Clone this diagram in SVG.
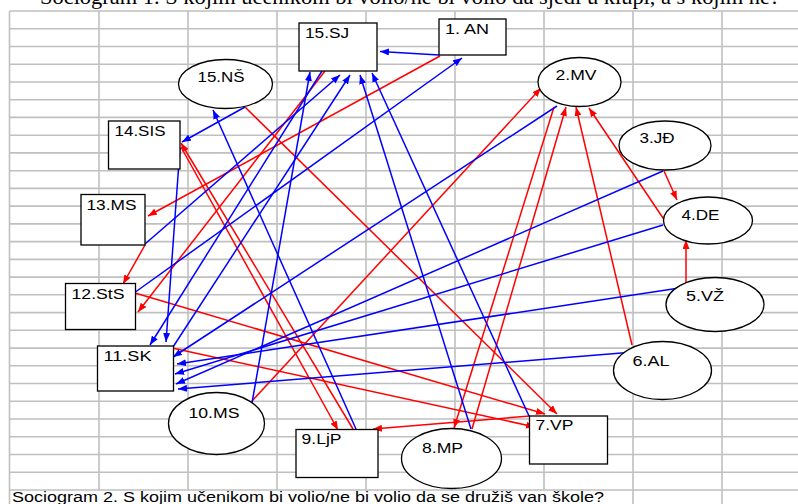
<svg xmlns="http://www.w3.org/2000/svg" width="798" height="504" viewBox="0 0 798 504">
<style>
.g{stroke:#c0c0c0;stroke-width:1.6;fill:none}
.n{fill:#fff;stroke:#000;stroke-width:1.3}
.t{font-family:"Liberation Sans",Arial,sans-serif;font-size:14px;fill:#000}
.r{stroke:#ff0000;stroke-width:1.5;fill:none;marker-end:url(#ar)}
.b{stroke:#0000ff;stroke-width:1.5;fill:none;marker-end:url(#ab)}
</style>
<defs>
<marker id="ar" markerUnits="userSpaceOnUse" markerWidth="9" markerHeight="7" refX="9" refY="3.5" orient="auto"><path d="M0,0 L9,3.5 L0,7 z" fill="#ff0000"/></marker>
<marker id="ab" markerUnits="userSpaceOnUse" markerWidth="9" markerHeight="7" refX="9" refY="3.5" orient="auto"><path d="M0,0 L9,3.5 L0,7 z" fill="#0000ff"/></marker>
</defs>
<rect x="0" y="0" width="798" height="504" fill="#fff"/>
<text x="40" y="4" font-family="'Liberation Serif','Times New Roman',serif" font-size="22" fill="#000" textLength="740" lengthAdjust="spacingAndGlyphs">Sociogram 1. S kojim učenikom bi volio/ne bi volio da sjedi u klupi, a s kojim ne?</text>
<g id="grid" class="g">
<path d="M9.5,11V504M99,11V490M188,11V490M277,11V490M366,11V490M455,11V490M544,11V490M633,11V504M722,11V504"/>
<path d="M9.5,11H798M9.5,28.7H798M9.5,46.5H798M9.5,64.2H798M9.5,82H798M9.5,99.7H798M9.5,117.4H798M9.5,135.2H798M9.5,152.9H798M9.5,170.7H798M9.5,188.4H798M9.5,206.1H798M9.5,223.9H798M9.5,241.6H798M9.5,259.4H798M9.5,277.1H798M9.5,294.8H798M9.5,312.6H798M9.5,330.3H798M9.5,348.1H798M9.5,365.8H798M9.5,383.5H798M9.5,401.3H798M9.5,419H798M9.5,436.8H798M9.5,454.5H798M9.5,472.2H798M9.5,490H798"/>
</g>
<text class="t" x="12" y="502" font-size="15" textLength="592" lengthAdjust="spacingAndGlyphs">Sociogram 2. S kojim učenikom bi volio/ne bi volio da se družiš van škole?</text>
<g id="connectors">
<path class="r" d="M440,56L148,216"/>
<path class="r" d="M325,71L138,312"/>
<path class="r" d="M145,245L123,284"/>
<path class="r" d="M181,147L338,430"/>
<path class="r" d="M353,429L181,143"/>
<path class="r" d="M245,107L557,414"/>
<path class="r" d="M252,401L541,88"/>
<path class="r" d="M172,348L535,427"/>
<path class="r" d="M135,293L545,414"/>
<path class="r" d="M530,416L373,429"/>
<path class="r" d="M554,107L454,428"/>
<path class="r" d="M472,429L566,107"/>
<path class="r" d="M632,345L576,107"/>
<path class="r" d="M665,221L589,108"/>
<path class="r" d="M664,171L677,200"/>
<path class="r" d="M686,287L686,240"/>
<path class="b" d="M439,55L380,51.5"/>
<path class="b" d="M134,293L462,58"/>
<path class="b" d="M245,107L182,142"/>
<path class="b" d="M356,429L213,110"/>
<path class="b" d="M180,148L166,342"/>
<path class="b" d="M322,71L150,345"/>
<path class="b" d="M173,347L350,75"/>
<path class="b" d="M145,244L340,75"/>
<path class="b" d="M252,403L310,72"/>
<path class="b" d="M471,429L360,75"/>
<path class="b" d="M529,416L372,73"/>
<path class="b" d="M557,106L173,357"/>
<path class="b" d="M663,171L176,384"/>
<path class="b" d="M663,225L175,374"/>
<path class="b" d="M686,287L177,364"/>
<path class="b" d="M634,352L178,389"/>
</g>
<g id="n15SJ"><rect class="n" x="299" y="23" width="78" height="48"/><text class="t" x="305" y="38" textLength="44" lengthAdjust="spacingAndGlyphs">15.SJ</text></g>
<g id="n1AN"><rect class="n" x="439" y="19" width="67" height="36"/><text class="t" x="445" y="34" textLength="44" lengthAdjust="spacingAndGlyphs">1. AN</text></g>
<g id="n15NS"><ellipse class="n" cx="225.5" cy="84" rx="47" ry="24.5"/><text class="t" x="197.5" y="82" textLength="47" lengthAdjust="spacingAndGlyphs">15.NŠ</text></g>
<g id="n2MV"><ellipse class="n" cx="579.5" cy="82" rx="41.5" ry="24.5"/><text class="t" x="555.5" y="80" textLength="41" lengthAdjust="spacingAndGlyphs">2.MV</text></g>
<g id="n3JD"><ellipse class="n" cx="665" cy="145.5" rx="46" ry="24.5"/><text class="t" x="639.5" y="143" textLength="35" lengthAdjust="spacingAndGlyphs">3.JĐ</text></g>
<g id="n4DE"><ellipse class="n" cx="708" cy="220.5" rx="44.5" ry="23.5"/><text class="t" x="681.5" y="220" textLength="38" lengthAdjust="spacingAndGlyphs">4.DE</text></g>
<g id="n5VZ"><ellipse class="n" cx="715" cy="304.5" rx="49" ry="27"/><text class="t" x="686" y="301" textLength="38" lengthAdjust="spacingAndGlyphs">5.VŽ</text></g>
<g id="n6AL"><ellipse class="n" cx="662.5" cy="370.5" rx="49" ry="29"/><text class="t" x="632.5" y="366" textLength="37" lengthAdjust="spacingAndGlyphs">6.AL</text></g>
<g id="n7VP"><rect class="n" x="529.5" y="416" width="78" height="48"/><text class="t" x="535.5" y="430" textLength="38" lengthAdjust="spacingAndGlyphs">7.VP</text></g>
<g id="n8MP"><ellipse class="n" cx="451.5" cy="458.5" rx="50" ry="30"/><text class="t" x="422" y="453" textLength="41" lengthAdjust="spacingAndGlyphs">8.MP</text></g>
<g id="n9LjP"><rect class="n" x="296" y="429.5" width="82" height="48"/><text class="t" x="301.5" y="444" textLength="40" lengthAdjust="spacingAndGlyphs">9.LjP</text></g>
<g id="n10MS"><ellipse class="n" cx="216.5" cy="423.5" rx="48" ry="31"/><text class="t" x="188.5" y="417.5" textLength="51" lengthAdjust="spacingAndGlyphs">10.MS</text></g>
<g id="n11SK"><rect class="n" x="97.5" y="346" width="76" height="45"/><text class="t" x="103.5" y="360.5" textLength="48" lengthAdjust="spacingAndGlyphs">11.SK</text></g>
<g id="n12StS"><rect class="n" x="65.5" y="283.5" width="70" height="46"/><text class="t" x="71.5" y="299" textLength="53" lengthAdjust="spacingAndGlyphs">12.StS</text></g>
<g id="n13MS"><rect class="n" x="81" y="194.5" width="64" height="50.5"/><text class="t" x="86.5" y="210" textLength="50" lengthAdjust="spacingAndGlyphs">13.MS</text></g>
<g id="n14SIS"><rect class="n" x="108.5" y="121" width="71.5" height="48"/><text class="t" x="114.5" y="135.5" textLength="51" lengthAdjust="spacingAndGlyphs">14.SIS</text></g>
</svg>
